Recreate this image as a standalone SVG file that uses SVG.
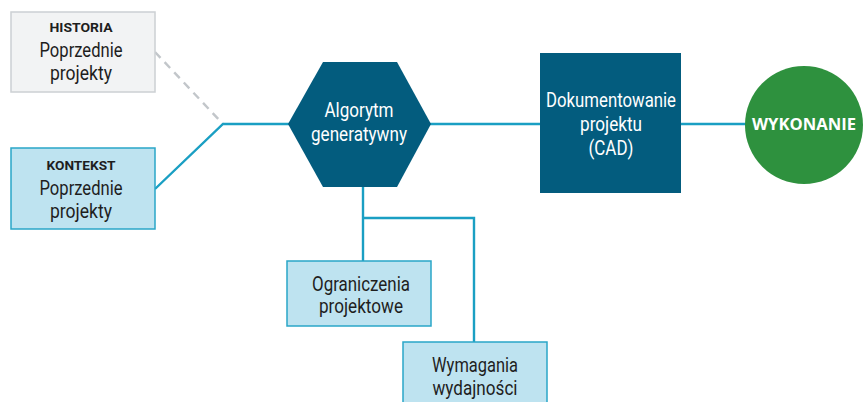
<svg xmlns="http://www.w3.org/2000/svg" width="867" height="402" viewBox="0 0 867 402">
<style>
.t{font-family:Roboto,"Liberation Sans",sans-serif;font-size:20px;fill:#1e1e1e;text-anchor:middle}
.w{fill:#ffffff}
.lbl{font-family:Roboto,"Liberation Sans",sans-serif;font-size:12.5px;font-weight:bold;fill:#1e1e1e;text-anchor:middle}
.lb{fill:#bee3f0;stroke:#2aa6c8;stroke-width:1.5}
.gr{fill:#f2f3f4;stroke:#ccd0d3;stroke-width:1.5}
.dk{fill:#035c7e}
.c{fill:none;stroke:#1a9fc3;stroke-width:2.4}
.d{fill:none;stroke:#c2c6ca;stroke-width:2.4;stroke-dasharray:8 6}
</style>
<rect width="867" height="402" fill="#ffffff"/>
<g id="connectors">
<path class="d" d="M155,52 L223,124"/>
<path class="c" d="M155,189 L223,124 L290,124"/>
<path class="c" d="M430,124 L541,124"/>
<path class="c" d="M681,124 L746,124"/>
<path class="c" d="M363,186 L363,262"/>
<path class="c" d="M363,218 L474,218 L474,343"/>
</g>
<g id="historia">
<rect class="gr" x="11" y="12" width="144" height="80"/>
<text class="lbl" x="81" y="32" textLength="63" lengthAdjust="spacingAndGlyphs">HISTORIA</text>
<text class="t" x="81" y="57" textLength="83" lengthAdjust="spacingAndGlyphs">Poprzednie</text>
<text class="t" x="81" y="80" textLength="62" lengthAdjust="spacingAndGlyphs">projekty</text>
</g>
<g id="kontekst">
<rect class="lb" x="11" y="148" width="144" height="81"/>
<text class="lbl" x="81" y="170" textLength="69" lengthAdjust="spacingAndGlyphs">KONTEKST</text>
<text class="t" x="81" y="195" textLength="83" lengthAdjust="spacingAndGlyphs">Poprzednie</text>
<text class="t" x="81" y="218" textLength="62" lengthAdjust="spacingAndGlyphs">projekty</text>
</g>
<g id="algorytm">
<polygon class="dk" points="288,124 323,62 397,62 431,124 397,187 323,187"/>
<text class="t w" x="359" y="117" textLength="69" lengthAdjust="spacingAndGlyphs">Algorytm</text>
<text class="t w" x="359" y="141" textLength="96" lengthAdjust="spacingAndGlyphs">generatywny</text>
</g>
<g id="dokumentowanie">
<rect class="dk" x="540" y="53" width="141" height="140"/>
<text class="t w" x="611" y="107" textLength="130" lengthAdjust="spacingAndGlyphs">Dokumentowanie</text>
<text class="t w" x="611" y="131" textLength="62" lengthAdjust="spacingAndGlyphs">projektu</text>
<text class="t w" x="611" y="155" textLength="45" lengthAdjust="spacingAndGlyphs">(CAD)</text>
</g>
<g id="wykonanie">
<circle cx="804" cy="125" r="59" fill="#2e913e"/>
<text x="804" y="130" font-family="'Open Sans','Liberation Sans',sans-serif" font-size="16.5" font-weight="bold" fill="#ffffff" text-anchor="middle" textLength="104" lengthAdjust="spacingAndGlyphs">WYKONANIE</text>
</g>
<g id="ograniczenia">
<rect class="lb" x="287" y="261" width="144" height="65"/>
<text class="t" x="361" y="291" textLength="98" lengthAdjust="spacingAndGlyphs">Ograniczenia</text>
<text class="t" x="361" y="313" textLength="84" lengthAdjust="spacingAndGlyphs">projektowe</text>
</g>
<g id="wymagania">
<rect class="lb" x="403" y="342" width="144" height="70"/>
<text class="t" x="475" y="372" textLength="86" lengthAdjust="spacingAndGlyphs">Wymagania</text>
<text class="t" x="475" y="395" textLength="85" lengthAdjust="spacingAndGlyphs">wydajności</text>
</g>
</svg>
